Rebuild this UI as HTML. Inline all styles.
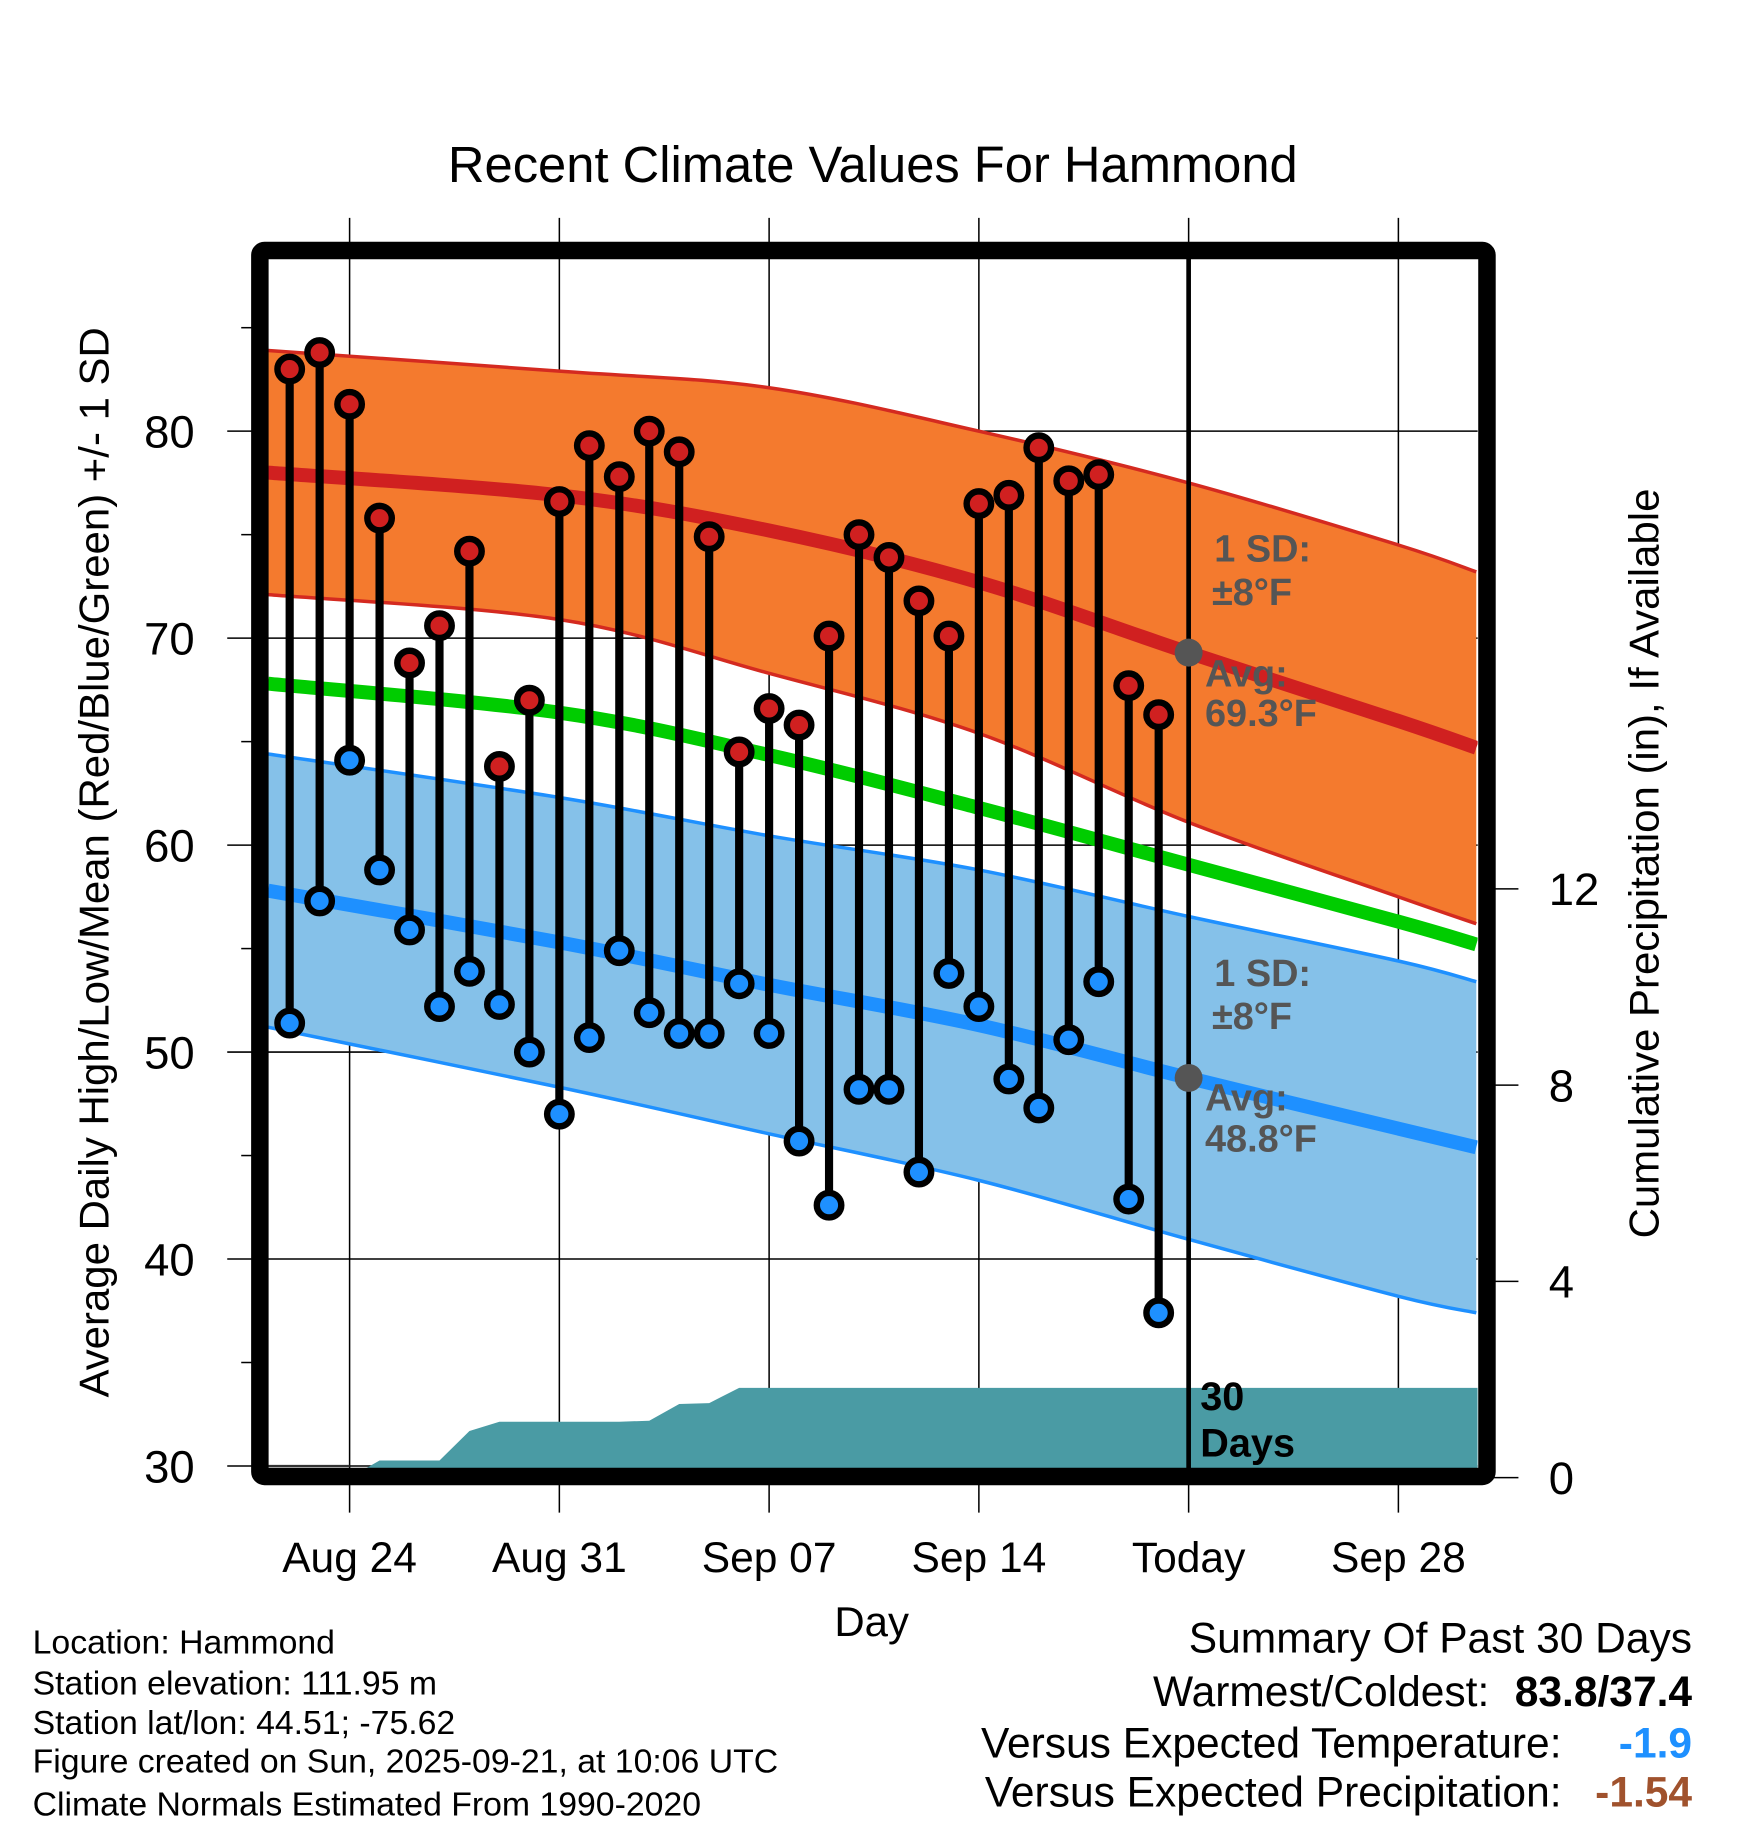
<!DOCTYPE html>
<html><head><meta charset="utf-8"><style>
html,body{margin:0;padding:0;background:#fff}
svg{display:block;font-family:"Liberation Sans",Arial,sans-serif}
</style></head><body>
<svg id="chart" xmlns="http://www.w3.org/2000/svg" width="1748" height="1828" viewBox="0 0 1500 1568.65" preserveAspectRatio="none">
<defs><clipPath id="plotclip"><rect x="230" y="222" width="1038" height="1038"/></clipPath></defs>
<rect width="1500" height="1569" fill="#fff"/>
<text x="749" y="156" font-size="43.5" text-anchor="middle">Recent Climate Values For Hammond</text>
<g id="grid"></g>
<g id="bands" clip-path="url(#plotclip)"></g>
<g id="marks"></g>
<g id="frame"></g>
<g id="labels"></g>
<text transform="translate(93,740) rotate(-90)" font-size="36" text-anchor="middle">Average Daily High/Low/Mean (Red/Blue/Green) +/- 1 SD</text>
<text transform="translate(1423,741) rotate(-90)" font-size="36" text-anchor="middle">Cumulative Precipitation (in), If Available</text>
<text x="748" y="1404" font-size="36" text-anchor="middle">Day</text>
<g font-size="29">
<text x="28" y="1419">Location: Hammond</text>
<text x="28" y="1454">Station elevation: 111.95 m</text>
<text x="28" y="1488">Station lat/lon: 44.51; -75.62</text>
<text x="28" y="1521">Figure created on Sun, 2025-09-21, at 10:06 UTC</text>
<text x="28" y="1558">Climate Normals Estimated From 1990-2020</text>
</g>
<g font-size="36.5" text-anchor="end">
<text x="1452" y="1418">Summary Of Past 30 Days</text>
<text x="1278" y="1464">Warmest/Coldest:</text>
<text x="1452" y="1464" font-weight="bold">83.8/37.4</text>
<text x="1340" y="1508">Versus Expected Temperature:</text>
<text x="1452" y="1508" font-weight="bold" fill="#1E90FF">-1.9</text>
<text x="1340" y="1550">Versus Expected Precipitation:</text>
<text x="1452" y="1550" font-weight="bold" fill="#A0522D">-1.54</text>
</g>
</svg>
<script>
// Data (day offsets relative to Aug 24)
const days = [-2,-1,0,1,2,3,4,5,6,7,8,9,10,11,12,13,14,15,16,17,18,19,20,21,22,23,24,25,26,27];
const highs = [83.0,83.8,81.3,75.8,68.8,70.6,74.2,63.8,67.0,76.6,79.3,77.8,80.0,79.0,74.9,64.5,66.6,65.8,70.1,75.0,73.9,71.8,70.1,76.5,76.9,79.2,77.6,77.9,67.7,66.3];
const lows = [51.4,57.3,64.1,58.8,55.9,52.2,53.9,52.3,50.0,47.0,50.7,54.9,51.9,50.9,50.9,53.3,50.9,45.7,42.6,48.2,48.2,44.2,53.8,52.2,48.7,47.3,50.6,53.4,42.9,37.4];
const precip = [0,0,0,0.35,0.35,0.35,0.95,1.14,1.14,1.14,1.14,1.14,1.16,1.5,1.52,1.83,1.83,1.83,1.83,1.83,1.83,1.83,1.83,1.83,1.83,1.83,1.83,1.83,1.83,1.83];
const normDays = [-2.72,7,14,21,28,35,37.6];
const normHigh = [78.0,76.9,75.2,72.7,69.3,66.0,64.7];
const sdHigh = [5.9,6.0,6.9,7.3,8.2,8.5,8.5];
const normMean = [67.8,66.4,64.35,61.8,59.05,56.3,55.2];
const normLow = [57.8,55.3,53.25,51.3,48.75,46.3,45.4];
const sdLow = [6.6,7.0,7.2,7.5,7.8,8.1,8.0];
const yTicks = [30,40,50,60,70,80];
const yMinor = [35,45,55,65,75,85];
const pTicks = [0,4,8,12];
const xTickDays = [0,7,14,21,28,35];
const xTickLabels = ["Aug 24","Aug 31","Sep 07","Sep 14","Today","Sep 28"];
const todayDay = 28;

const NS="http://www.w3.org/2000/svg";
const X=d=>300+25.714*d;
const Y=v=>1258-(v-30)*17.76;
const P=v=>1268-v*42.1;
function mk(tag,attrs,parent){const e=document.createElementNS(NS,tag);for(const k in attrs)e.setAttribute(k,attrs[k]);parent.appendChild(e);return e;}
const grid=document.getElementById('grid'),bands=document.getElementById('bands'),marks=document.getElementById('marks'),frame=document.getElementById('frame'),labels=document.getElementById('labels');

xTickDays.forEach((d,i)=>{
  const l=mk('line',{x1:X(d),x2:X(d),y1:187,y2:1298,stroke:'#000','stroke-width':1.3},grid);
  
  
  const t=mk('text',{x:X(d),y:1349,'font-size':36.5,'text-anchor':'middle'},labels);
  t.textContent=xTickLabels[i];
  
  
});
yTicks.forEach(v=>{
  const l=mk('line',{x1:195,x2:1268,y1:Y(v),y2:Y(v),stroke:'#000','stroke-width':1.3},grid);
  
  
  const t=mk('text',{x:167,y:Y(v)+14,'font-size':39,'text-anchor':'end'},labels);
  t.textContent=v;
  
  
});
yMinor.forEach(v=>{
  const l=mk('line',{x1:207,x2:220,y1:Y(v),y2:Y(v),stroke:'#000','stroke-width':1.3},grid);
  
  
});
pTicks.forEach(v=>{
  const l=mk('line',{x1:1276,x2:1303,y1:P(v),y2:P(v),stroke:'#000','stroke-width':1.3},grid);
  
  
  const t=mk('text',{x:1329,y:P(v)+14,'font-size':39},labels);
  t.textContent=v;
  
  
});

function pts(arr,off,sign){return normDays.map((d,i)=>[X(d),Y(arr[i]+(off?sign*off[i]:0))]);}
function smooth(p,start){ // Catmull-Rom to bezier
  let s=(start?'M':'L')+p[0][0]+','+p[0][1];
  for(let i=0;i<p.length-1;i++){
    const p0=p[i-1]||p[i],p1=p[i],p2=p[i+1],p3=p[i+2]||p2;
    const c1=[p1[0]+(p2[0]-p0[0])/6,p1[1]+(p2[1]-p0[1])/6];
    const c2=[p2[0]-(p3[0]-p1[0])/6,p2[1]-(p3[1]-p1[1])/6];
    s+=' C'+c1[0]+','+c1[1]+' '+c2[0]+','+c2[1]+' '+p2[0]+','+p2[1];
  }
  return s;
}
function band(avg,sd,fill,edge,name){
  const up=pts(avg,sd,1),dn=pts(avg,sd,-1);
  const b=mk('path',{d:smooth(up,true)+' '+smooth(dn.slice().reverse(),false)+' Z',fill:fill},bands);
  
  
  [up,dn].forEach(p=>{const e=mk('path',{d:smooth(p,true),fill:'none',stroke:edge,'stroke-width':3},bands);
    
    });
}
band(normHigh,sdHigh,'#F47A2E','#D42A20','high');
band(normLow,sdLow,'#85C1E9','#1E90FF','low');
[[normHigh,'#D02020','normal-high-line'],[normMean,'#00CC00','normal-mean-line'],[normLow,'#1E90FF','normal-low-line']].forEach(([a,c,n])=>{
  const e=mk('path',{d:smooth(pts(a),true),fill:'none',stroke:c,'stroke-width':12},bands);
  
  
});
// precipitation
let pp=[X(days[0])+','+P(0)];
days.forEach((d,i)=>pp.push(X(d)+','+P(precip[i])));
pp.push('1268,'+P(precip[precip.length-1]));pp.push('1268,1270');pp.push('230,1270');pp.push('230,'+P(0));
const pa=mk('polygon',{points:pp.join(' '),fill:'#4A9BA4'},bands);


const pl=mk('line',{x1:230,x2:X(days[2]),y1:1258,y2:1258,stroke:'#333','stroke-width':2},bands);



// today line
const tl=mk('line',{x1:X(todayDay),x2:X(todayDay),y1:215,y2:1262,stroke:'#000','stroke-width':4},marks);


// stems and dots
days.forEach((d,i)=>{
  const s=mk('line',{x1:X(d),x2:X(d),y1:Y(highs[i]),y2:Y(lows[i]),stroke:'#000','stroke-width':7},marks);
  
  
});
days.forEach((d,i)=>{
  const h=mk('circle',{cx:X(d),cy:Y(highs[i]),r:10.5,fill:'#D02020',stroke:'#000','stroke-width':5.5},marks);
  
  
  const l=mk('circle',{cx:X(d),cy:Y(lows[i]),r:10.5,fill:'#1E90FF',stroke:'#000','stroke-width':5.5},marks);
  
  
});
const ti=normDays.indexOf(todayDay);
[[normHigh[ti],'today-avg-high-marker'],[normLow[ti],'today-avg-low-marker']].forEach(([v,n])=>{
  const c=mk('circle',{cx:X(todayDay),cy:Y(v),r:12,fill:'#555'},marks);
  
  
});
function lab(x,y,txt,name,fill,sz){const t=mk('text',{x:x,y:y,'font-size':sz||32.5,'font-weight':'bold',fill:fill||'#555'},marks);t.textContent=txt;
  
  return t;}
lab(1042,482,'1 SD:','high-sd-label');
lab(1040,519,'±8°F','high-sd-value');
lab(1034,589,'Avg:','high-avg-label');
lab(1034,623,'69.3°F','high-avg-value');
lab(1042,846,'1 SD:','low-sd-label');
lab(1040,883,'±8°F','low-sd-value');
lab(1034,953,'Avg:','low-avg-label');
lab(1034,988,'48.8°F','low-avg-value');
lab(1030,1210,'30','days-count-label','#000',34);
lab(1030,1250,'Days','days-label','#000',34);

const fr=mk('rect',{x:223,y:215,width:1053,height:1052,rx:4,fill:'none',stroke:'#000','stroke-width':15},frame);


</script>
</body></html>
